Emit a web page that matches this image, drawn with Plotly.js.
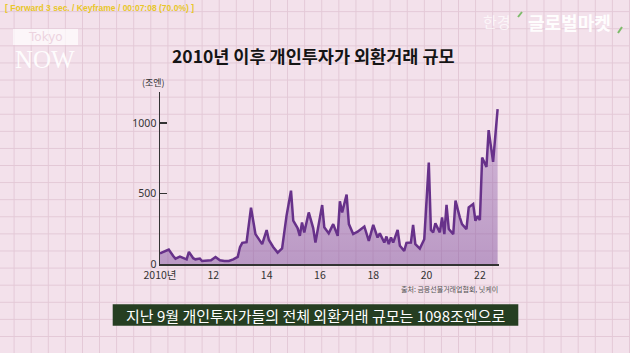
<!DOCTYPE html>
<html><head><meta charset="utf-8">
<script src="https://cdn.plot.ly/plotly-3.0.1.min.js"></script>
<style>
html,body{margin:0;padding:0;width:630px;height:353px;overflow:hidden;}
body{background-color:#f3e1eb;
background-image:linear-gradient(to right, #e3c8d6 1px, transparent 1px), linear-gradient(to bottom, #e3c8d6 1px, transparent 1px);
background-size:17.1px 17.1px; background-position:13.6px 11.2px;}
#chart{width:630px;height:353px;}
</style></head><body><div id="chart"></div>
<script>
// Monthly individual FX trading volume (trillion yen)
const dates = ['2010-01','2010-03','2010-05','2010-07','2010-08','2010-10','2010-11','2011-01','2011-02','2011-04','2011-05','2011-07','2011-08','2011-10','2011-12','2012-02','2012-04','2012-06','2012-08','2012-10','2012-12','2013-01','2013-02','2013-04','2013-06','2013-08','2013-10','2013-11','2014-01','2014-02','2014-04','2014-06','2014-08','2014-10','2014-12','2015-01','2015-03','2015-04','2015-05','2015-06','2015-08','2015-10','2015-11','2016-02','2016-03','2016-05','2016-07','2016-09','2016-10','2016-11','2017-01','2017-02','2017-04','2017-06','2017-09','2017-11','2018-01','2018-03','2018-04','2018-06','2018-07','2018-08','2018-09','2018-10','2018-12','2019-01','2019-03','2019-04','2019-06','2019-07','2019-08','2019-10','2019-12','2020-02','2020-03','2020-04','2020-05','2020-07','2020-08','2020-09','2020-10','2020-11','2021-01','2021-02','2021-04','2021-05','2021-07','2021-08','2021-10','2021-11','2021-12','2022-01','2022-02','2022-04','2022-05','2022-07','2022-09'];
const values = [75,86,102,57,38,52,45,33,86,41,33,38,21,21,26,50,26,21,21,33,50,120,150,155,400,212,164,141,241,170,121,81,110,343,520,307,255,200,295,224,366,255,152,418,260,217,283,200,445,366,492,283,212,229,266,164,278,188,217,152,195,141,188,152,241,129,93,150,152,278,141,109,176,719,241,224,288,224,331,212,419,248,212,450,331,283,248,402,426,307,340,312,755,688,950,724,1098];
const xTickVals = ['2010-01-01','2012-01-01','2014-01-01','2016-01-01','2018-01-01','2020-01-01','2022-01-01'];
const xTickText = ['2010년','12','14','16','18','20','22'];
const yTickVals = [0,500,1000];
const yTickText = ['0','500','1000'];
const titleText = '2010년 이후 개인투자가 외환거래 규모';
const unitText = '(조엔)';
const sourceText = '출처: 금융선물거래업협회, 닛케이';
const captionText = '지난 9월 개인투자가들의 전체 외환거래 규모는 1098조엔으로';
const topLeftText = '[ Forward 3 sec. / Keyframe / 00:07:08 (70.0%) ]';

const L=160, R=499, T=92, B=264;
const PX = x => (x-L)/(R-L);
const PY = y => (B-y)/(B-T);
const KR = '"Noto Sans CJK KR", "Noto Sans", sans-serif';

const trace = {
  x: dates, y: values, type:'scatter', mode:'lines',
  line:{color:'#67318a', width:2.5},
  fill:'tozeroy',
  fillgradient:{type:'vertical', start:0, stop:1100,
    colorscale:[[0,'rgba(125,75,155,0.48)'],[1,'rgba(140,90,170,0.3)']]},
  hoverinfo:'skip'
};

const layout = {
  width:630, height:353,
  margin:{l:L, r:630-R, t:T, b:353-B, pad:0},
  paper_bgcolor:'rgba(0,0,0,0)', plot_bgcolor:'rgba(0,0,0,0)',
  showlegend:false,
  xaxis:{type:'date', range:['2010-01-01','2022-09-20'], showgrid:false, zeroline:false,
    showline:true, linecolor:'#333', linewidth:1.5,
    tickmode:'array', tickvals:xTickVals, ticktext:xTickText, ticks:'', ticklabelstandoff:1,
    tickfont:{family:KR, size:10.5, color:'#333'}},
  yaxis:{range:[0,1220], showgrid:false, zeroline:false,
    showline:true, linecolor:'#333', linewidth:1.5,
    tickmode:'array', tickvals:yTickVals, ticktext:yTickText,
    ticks:'inside', ticklen:7, tickwidth:1.5, tickcolor:'#333',
    tickfont:{family:'"Noto Sans", sans-serif', size:10.5, color:'#333'}},
  shapes:[
    {type:'rect', xref:'paper', yref:'paper', x0:PX(112.7), x1:PX(518.3), y0:PY(325.7), y1:PY(304.3),
     fillcolor:'#263e22', line:{width:0}, layer:'above'},
    {type:'rect', xref:'paper', yref:'paper', x0:PX(13), x1:PX(78), y0:PY(45), y1:PY(29),
     fillcolor:'rgba(255,255,255,0.7)', line:{width:0}},
    {type:'line', xref:'paper', yref:'paper', x0:PX(518), x1:PX(522), y0:PY(17), y1:PY(12),
     line:{color:'#7dbb6a', width:2}},
    {type:'line', xref:'paper', yref:'paper', x0:PX(618), x1:PX(622), y0:PY(33), y1:PY(27),
     line:{color:'#7dbb6a', width:2}}
  ],
  annotations:[
    {text:'<b>'+titleText+'</b>', xref:'paper', yref:'paper', x:PX(313), y:PY(55), showarrow:false,
     xanchor:'center', yanchor:'middle', font:{family:KR, size:17.5, color:'#151515'}},
    {text:unitText, xref:'paper', yref:'paper', x:PX(153), y:PY(83), showarrow:false,
     xanchor:'center', yanchor:'middle', font:{family:KR, size:9, color:'#333'}},
    {text:sourceText, xref:'paper', yref:'paper', x:PX(500), y:PY(289), showarrow:false,
     xanchor:'right', yanchor:'middle', font:{family:KR, size:7, color:'#555'}},
    {text:captionText, xref:'paper', yref:'paper', x:PX(315.5), y:PY(315), showarrow:false,
     xanchor:'center', yanchor:'middle', font:{family:KR, size:15, color:'#ffffff'}},
    {text:'<b>'+topLeftText+'</b>', xref:'paper', yref:'paper', x:PX(3), y:PY(8), showarrow:false,
     xanchor:'left', yanchor:'middle', font:{family:'Liberation Sans, sans-serif', size:8.5, color:'#e8c62a'}},
    {text:'Tokyo', xref:'paper', yref:'paper', x:PX(45.5), y:PY(37), showarrow:false,
     xanchor:'center', yanchor:'middle', font:{family:'DejaVu Sans, sans-serif', size:12, color:'#ecd3df'}},
    {text:'NOW', xref:'paper', yref:'paper', x:PX(45), y:PY(59.5), showarrow:false,
     xanchor:'center', yanchor:'middle', font:{family:'Liberation Serif, serif', size:25, color:'rgba(255,255,255,0.92)'}},
    {text:'한경', xref:'paper', yref:'paper', x:PX(497), y:PY(22), showarrow:false,
     xanchor:'center', yanchor:'middle', font:{family:KR, size:15, color:'rgba(255,255,255,0.7)'}},
    {text:'<b>글로벌마켓</b>', xref:'paper', yref:'paper', x:PX(569), y:PY(22), showarrow:false,
     xanchor:'center', yanchor:'middle', font:{family:KR, size:18, color:'rgba(255,255,255,0.95)'}}
  ]
};

Plotly.newPlot('chart', [trace], layout, {staticPlot:true, displayModeBar:false});
</script></body></html>
